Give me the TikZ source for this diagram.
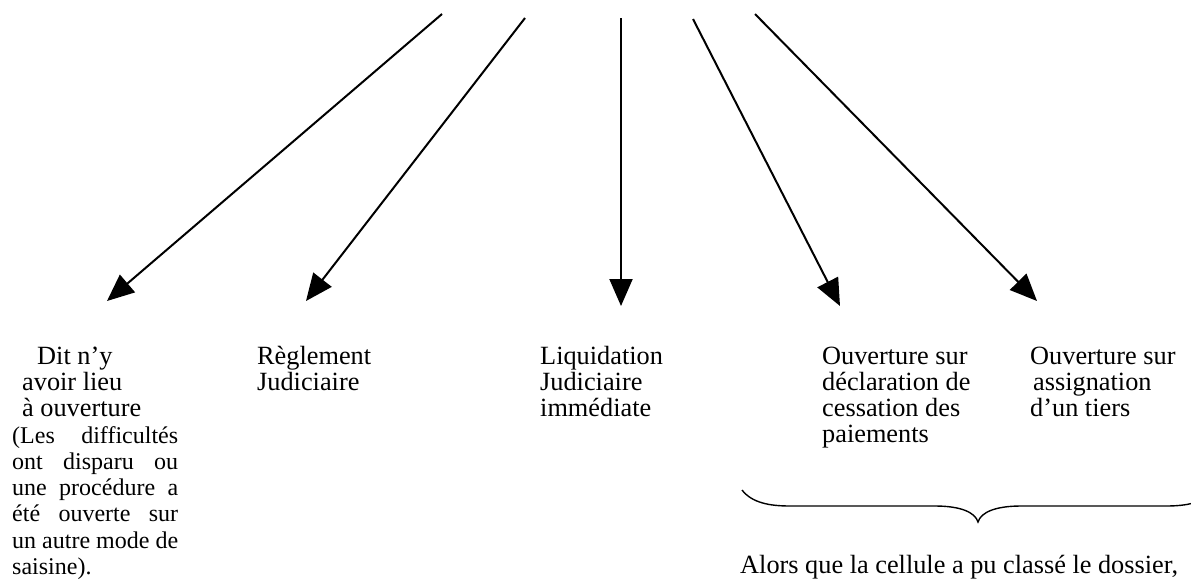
\documentclass[tikz,border=0pt]{standalone}
\usepackage{fontspec}
\setmainfont{Liberation Serif}
\usetikzlibrary{arrows.meta}
\newcommand{\lines}[1]{\begin{tabular}[t]{@{}l@{}}#1\end{tabular}}
\newcommand{\jline}[1]{\makebox[166pt][s]{#1}}
\begin{document}
\begin{tikzpicture}[x=1pt,y=-1pt,
  conn/.style={line width=2pt,-{Triangle[length=27pt,width=23pt]}},
  lbl/.style={anchor=base west,inner sep=0pt,font=\fontsize{26.3}{26.3}\selectfont},
  small/.style={font=\fontsize{24}{26.3}\selectfont},
  bracepath/.style={line width=1.4pt}]
\useasboundingbox (0,0) rectangle (1191,587);
\clip (0,0) rectangle (1191,587);
% connector ends
\coordinate (s1) at (442,14);  \coordinate (e1) at (107,301);
\coordinate (s2) at (525,18);  \coordinate (e2) at (306,301);
\coordinate (s3) at (621,18);  \coordinate (e3) at (621,306);
\coordinate (s4) at (693,19);  \coordinate (e4) at (840,306);
\coordinate (s5) at (755,14);  \coordinate (e5) at (1037,301);
\draw[conn] (s1) -- (e1);
\draw[conn] (s2) -- (e2);
\draw[conn] (s3) -- (e3);
\draw[conn] (s4) -- (e4);
\draw[conn] (s5) -- (e5);
% labels
\node[lbl] (t1) at (12,364) {\lines{\hspace*{25pt}Dit n’y\\ \hspace*{10pt}avoir lieu\\ \hspace*{10pt}à ouverture}};
\node[lbl,small] (t1b) at (12,443) {\lines{\jline{(Les difficultés}\\ \jline{ont disparu ou}\\ \jline{une procédure a}\\ \jline{été ouverte sur}\\ \jline{un autre mode de}\\ saisine).}};
\node[lbl] (t2) at (257,364) {\lines{Règlement\\ Judiciaire}};
\node[lbl] (t3) at (540,364) {\lines{Liquidation\\ Judiciaire\\ immédiate}};
\node[lbl] (t4) at (822,364) {\lines{Ouverture sur\\ déclaration de\\ cessation des\\ paiements}};
\node[lbl] (t5) at (1030,364) {\lines{Ouverture sur\\ \hspace*{3pt}assignation\\ d’un tiers}};
% brace
\draw[bracepath] (742,490) .. controls (752,503) and (770,506) .. (790,506) -- (935,506)
  .. controls (960,506) and (975,512) .. (978,522)
  .. controls (981,512) and (996,506) .. (1021,506) -- (1166,506)
  .. controls (1186,506) and (1204,503) .. (1214,490);
\node[lbl] (t6) at (740,573) {Alors que la cellule a pu classé le dossier,};
\end{tikzpicture}
\end{document}
